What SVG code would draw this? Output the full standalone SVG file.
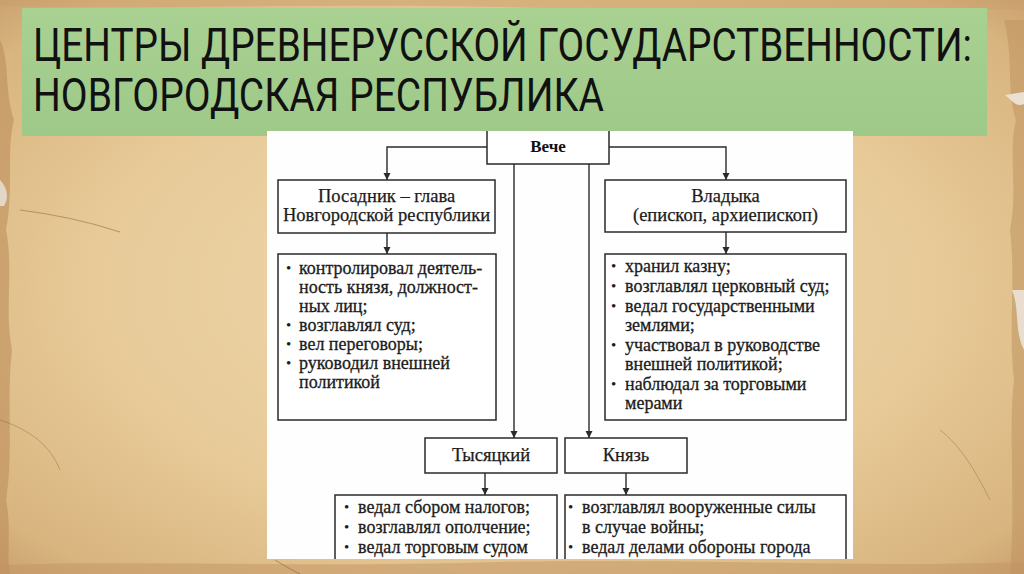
<svg xmlns="http://www.w3.org/2000/svg" width="1024" height="574" viewBox="0 0 1024 574">
<defs>
<style>
.title{font-family:Roboto,"Liberation Sans",sans-serif;font-size:37px;fill:#111;}
.box{fill:#fff;stroke:#2a2a2a;stroke-width:1.5;}
.hd{font-family:"Liberation Serif","Times New Roman",serif;font-size:18.5px;fill:#1c1c1c;text-anchor:middle;stroke:#1c1c1c;stroke-width:0.25;}
.li{font-family:"Liberation Serif","Times New Roman",serif;font-size:18px;fill:#1c1c1c;stroke:#1c1c1c;stroke-width:0.3;}
.bu{font-family:"Liberation Serif","Times New Roman",serif;font-size:15px;fill:#1c1c1c;}
.vb{font-family:"Liberation Serif","Times New Roman",serif;font-size:17px;font-weight:bold;fill:#111;text-anchor:middle;}
.conn{fill:none;stroke:#2a2a2a;stroke-width:1.4;}
</style>
<marker id="arrow" markerUnits="userSpaceOnUse" markerWidth="8" markerHeight="8" refX="7" refY="3.5" orient="auto">
<path d="M0,0 L7,3.5 L0,7 z" fill="#2a2a2a"/>
</marker>
<radialGradient id="paper" cx="0.5" cy="0.5" r="0.75">
<stop offset="0" stop-color="#efd8ad"/>
<stop offset="0.55" stop-color="#e7ca98"/>
<stop offset="0.85" stop-color="#d8b47f"/>
<stop offset="1" stop-color="#c29766"/>
</radialGradient>
<linearGradient id="green" x1="0" y1="0" x2="0" y2="1">
<stop offset="0" stop-color="#a9d192"/>
<stop offset="1" stop-color="#9ec988"/>
</linearGradient>
<clipPath id="panelclip"><rect x="267" y="131" width="586" height="428"/></clipPath>
</defs>

<g id="background">
<rect x="0" y="0" width="1024" height="574" fill="url(#paper)"/>
<path d="M0,0 H1024 V10 C900,6 700,12 500,7 C300,3 150,10 0,6 Z" fill="#c9a06c" opacity="0.5"/>
<path d="M0,40 C10,60 4,90 14,120 C6,150 14,190 6,230 C14,270 4,310 12,350 C6,400 14,450 6,500 C12,530 6,555 10,574 H0 Z" fill="#b98b58" opacity="0.55"/>
<path d="M0,180 C6,186 10,196 4,206 L0,206 Z" fill="#e2d6c8"/>
<path d="M0,565 C150,560 300,568 500,562 C700,558 850,568 1024,562 V574 H0 Z" fill="#c29463" opacity="0.5"/>
<path d="M1004,20 C1014,60 1006,90 1016,120 C1008,150 1018,190 1010,230 C1016,280 1008,330 1014,380 C1008,430 1016,500 1010,574 H1024 V20 Z" fill="#bf9361" opacity="0.55"/>
<path d="M1012,290 C1020,310 1014,330 1024,350 V290 Z" fill="#e9ddd0"/>
<path d="M1005,95 C1012,100 1016,108 1024,104 V92 Z" fill="#ece0d2"/>
<path d="M20,210 C60,215 90,222 120,232" stroke="#8a6236" stroke-width="1.2" fill="none" opacity="0.5"/>
<path d="M0,420 C30,430 50,445 60,470" stroke="#8a6236" stroke-width="1" fill="none" opacity="0.4"/>
<path d="M940,430 C960,445 975,470 990,500" stroke="#8a6236" stroke-width="1" fill="none" opacity="0.4"/>
<path d="M275,560 C285,566 292,570 300,574" stroke="#7d5630" stroke-width="1" fill="none" opacity="0.5"/>
</g>

<g id="title">
<rect x="22" y="8" width="965" height="128" fill="url(#green)"/>
<text class="title" transform="translate(33,61) scale(1,1.24)" x="0" y="0" textLength="939" lengthAdjust="spacingAndGlyphs">ЦЕНТРЫ ДРЕВНЕРУССКОЙ ГОСУДАРСТВЕННОСТИ:</text>
<text class="title" transform="translate(33,111) scale(1,1.24)" x="0" y="0" textLength="571" lengthAdjust="spacingAndGlyphs">НОВГОРОДСКАЯ РЕСПУБЛИКА</text>
</g>

<g id="panel">
<rect x="267" y="131" width="586" height="428" fill="#fefefe"/>
</g>

<g clip-path="url(#panelclip)">
<g id="connectors">
<path class="conn" d="M487,147 H387 V180" marker-end="url(#arrow)"/>
<path class="conn" d="M609,147 H726 V180" marker-end="url(#arrow)"/>
<path class="conn" d="M514,164 V438" marker-end="url(#arrow)"/>
<path class="conn" d="M589,164 V438" marker-end="url(#arrow)"/>
<path class="conn" d="M387,233 V254" marker-end="url(#arrow)"/>
<path class="conn" d="M726,232 V254" marker-end="url(#arrow)"/>
<path class="conn" d="M485,473 V495" marker-end="url(#arrow)"/>
<path class="conn" d="M626,473 V495" marker-end="url(#arrow)"/>
</g>

<g id="node-veche">
<path class="box" d="M487,120 V164 H609 V120"/>
<text class="vb" x="548" y="152">Вече</text>
</g>

<g id="node-posadnik">
<rect class="box" x="278" y="180" width="217" height="53"/>
<text class="hd" x="386.5" y="202">Посадник – глава</text>
<text class="hd" x="386.5" y="221">Новгородской республики</text>
</g>

<g id="node-posadnik-list">
<rect class="box" x="278" y="254" width="218" height="166"/>
<text class="bu" x="286" y="273">•</text>
<text class="li" x="299" y="274">контролировал деятель-</text>
<text class="li" x="299" y="293">ность князя, должност-</text>
<text class="li" x="299" y="312">ных лиц;</text>
<text class="bu" x="286" y="330">•</text>
<text class="li" x="299" y="331">возглавлял суд;</text>
<text class="bu" x="286" y="349">•</text>
<text class="li" x="299" y="350">вел переговоры;</text>
<text class="bu" x="286" y="368">•</text>
<text class="li" x="299" y="369">руководил внешней</text>
<text class="li" x="299" y="388">политикой</text>
</g>

<g id="node-vladyka">
<rect class="box" x="605" y="180" width="241" height="52"/>
<text class="hd" x="725.5" y="202">Владыка</text>
<text class="hd" x="725.5" y="221">(епископ, архиепископ)</text>
</g>

<g id="node-vladyka-list">
<rect class="box" x="605" y="254" width="241" height="166"/>
<text class="bu" x="611" y="271">•</text>
<text class="li" x="625" y="272">хранил казну;</text>
<text class="bu" x="611" y="291">•</text>
<text class="li" x="625" y="292">возглавлял церковный суд;</text>
<text class="bu" x="611" y="311">•</text>
<text class="li" x="625" y="312">ведал государственными</text>
<text class="li" x="625" y="331">землями;</text>
<text class="bu" x="611" y="350">•</text>
<text class="li" x="625" y="351">участвовал в руководстве</text>
<text class="li" x="625" y="370">внешней политикой;</text>
<text class="bu" x="611" y="389">•</text>
<text class="li" x="625" y="390">наблюдал за торговыми</text>
<text class="li" x="625" y="409">мерами</text>
</g>

<g id="node-tysyatsky">
<rect class="box" x="425" y="438" width="132" height="35"/>
<text class="hd" x="491" y="461">Тысяцкий</text>
</g>

<g id="node-knyaz">
<rect class="box" x="565" y="438" width="122" height="35"/>
<text class="hd" x="626" y="461">Князь</text>
</g>

<g id="node-tysyatsky-list">
<rect class="box" x="335" y="495" width="222" height="80"/>
<text class="bu" x="344" y="512">•</text>
<text class="li" x="358" y="513">ведал сбором налогов;</text>
<text class="bu" x="344" y="532">•</text>
<text class="li" x="358" y="533">возглавлял ополчение;</text>
<text class="bu" x="344" y="552">•</text>
<text class="li" x="358" y="553">ведал торговым судом</text>
</g>

<g id="node-knyaz-list">
<rect class="box" x="565" y="495" width="281" height="80"/>
<text class="bu" x="568" y="512">•</text>
<text class="li" x="582" y="513">возглавлял вооруженные силы</text>
<text class="li" x="582" y="533">в случае войны;</text>
<text class="bu" x="568" y="552">•</text>
<text class="li" x="582" y="553">ведал делами обороны города</text>
</g>
</g>
</svg>
